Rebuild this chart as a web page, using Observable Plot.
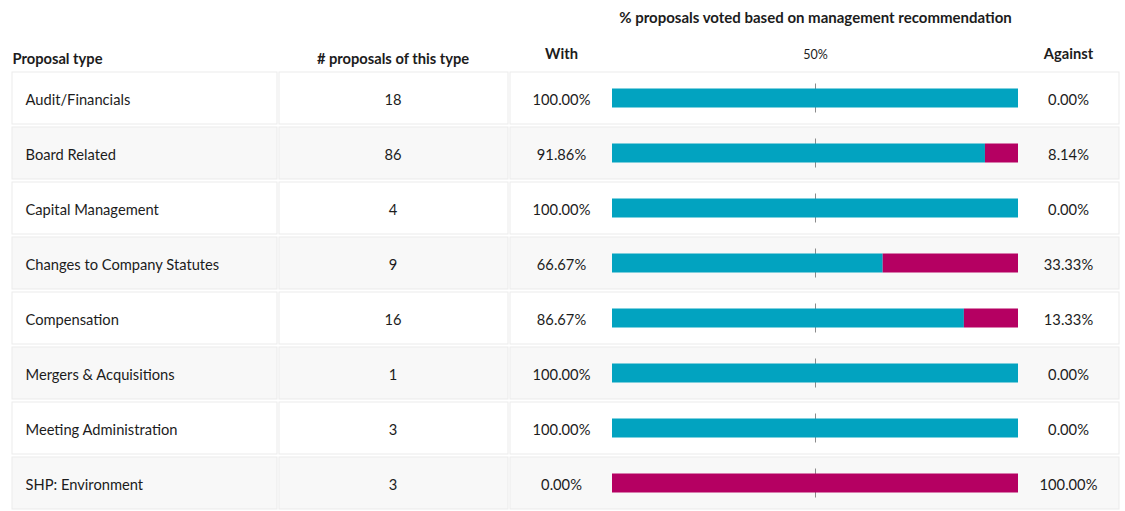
<!DOCTYPE html>
<html>
<head>
<meta charset="utf-8">
<script src="https://cdn.jsdelivr.net/npm/d3@7"></script>
<script src="https://cdn.jsdelivr.net/npm/@observablehq/plot@0.6"></script>
<style>
  html, body { margin: 0; padding: 0; background: #fff; }
  #chart svg { display: block; }
</style>
</head>
<body>
<div id="chart"></div>
<script>
// ---- Data ----
const categories = [
  "Audit/Financials",
  "Board Related",
  "Capital Management",
  "Changes to Company Statutes",
  "Compensation",
  "Mergers & Acquisitions",
  "Meeting Administration",
  "SHP: Environment"
];
const counts = [18, 86, 4, 9, 16, 1, 3, 3];
const withPct = [100, 91.86, 100, 66.67, 86.67, 100, 100, 0];
const againstPct = [0, 8.14, 0, 33.33, 13.33, 0, 0, 100];
const headers = {
  type: "Proposal type",
  count: "# proposals of this type",
  with: "With",
  against: "Against",
  mid: "50%",
  title: "% proposals voted based on management recommendation"
};

// ---- Layout (pixels) ----
const W = 1125, H = 511;
const barLeft = 612, barRight = 1018;
const toX = px => (px - barLeft) / (barRight - barLeft) * 100; // pixel -> percent units of x scale
const columns = [[12, 277], [279, 508], [510, 1119]];
const FONT = "Lato, 'Noto Sans', sans-serif";
const TEAL = "#02a3c0";
const MAGENTA = "#b50062";
const TEXT = "#1c1c1c";

const rows = categories.map((c, i) => ({
  cat: c, i, count: counts[i], w: withPct[i], a: againstPct[i]
}));
const cells = rows.flatMap(r => columns.map(([x1, x2]) => ({...r, x1: toX(x1), x2: toX(x2)})));
const fmt = v => v.toFixed(2) + "%";

const head = (text, px, y, opts = {}) =>
  Plot.text([text], {x: () => (typeof px === "function" ? px() : toX(px)), frameAnchor: "top", lineAnchor: "middle", dy: y, fontWeight: "bold", fill: TEXT, ...opts});

const chart = Plot.plot({
  width: W,
  height: H,
  margin: 0,
  style: {fontFamily: FONT, fontSize: "14.7px", color: TEXT, background: "#fff", overflow: "visible"},
  x: {domain: [0, 100], range: [barLeft, barRight], axis: null},
  y: {type: "band", domain: categories, range: [71, 510], paddingInner: 0.06, paddingOuter: 0, axis: null},
  marks: [
    // table cells
    Plot.barX(cells, {
      x1: "x1", x2: "x2", y: "cat",
      fill: d => d.i % 2 ? "#f8f8f8" : "#ffffff",
      stroke: "#ebebeb", strokeWidth: 1
    }),
    // 50% tick
    Plot.tickX(rows, {x: () => 50, y: "cat", stroke: "#8a8a8a", strokeWidth: 1, insetTop: 11.5, insetBottom: 11.5}),
    // bars
    Plot.barX(rows, {x1: 0, x2: "w", y: "cat", fill: TEAL, insetTop: 16.5, insetBottom: 16.5}),
    Plot.barX(rows, {x1: "w", x2: 100, y: "cat", fill: MAGENTA, insetTop: 16.5, insetBottom: 16.5}),
    // cell texts
    Plot.text(rows, {x: () => toX(25), y: "cat", dy: 1.5, text: "cat", textAnchor: "start", fill: TEXT}),
    Plot.text(rows, {x: () => toX(392.5), y: "cat", dy: 1.5, text: d => String(d.count), fill: TEXT}),
    Plot.text(rows, {x: () => toX(561), y: "cat", dy: 1.5, text: d => fmt(d.w), fill: TEXT}),
    Plot.text(rows, {x: () => toX(1068), y: "cat", dy: 1.5, text: d => fmt(d.a), fill: TEXT}),
    // headers
    head(headers.type, 12, 59, {textAnchor: "start"}),
    head(headers.count, 392.5, 59),
    head(headers.with, 561, 54),
    head(headers.against, 1068, 54),
    head(headers.mid, () => 50, 54, {fontSize: 12.5, fontWeight: "normal"}),
    head(headers.title, () => 50, 18, {fontSize: 15})
  ]
});
document.getElementById("chart").appendChild(chart);
</script>
</body>
</html>
